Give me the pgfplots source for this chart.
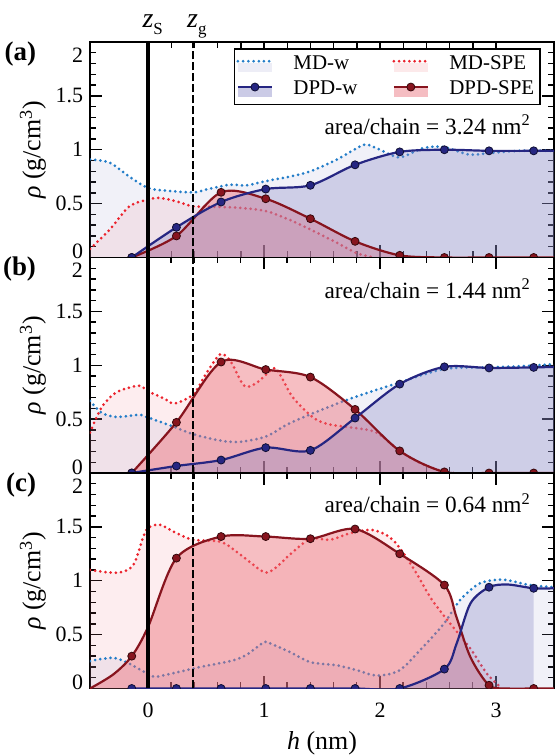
\documentclass[border=0pt]{standalone}
\usepackage{fontspec}
\setmainfont{Liberation Serif}
\usepackage{pgfplots}
\usepackage{pgfplotstable}
\pgfplotsset{compat=1.18}
\usetikzlibrary{calc}

\definecolor{mdw}{RGB}{35,125,200}
\definecolor{dpdw}{RGB}{38,38,130}
\definecolor{mdspe}{RGB}{235,35,45}
\definecolor{dpdspe}{RGB}{135,20,30}
\definecolor{wfill}{RGB}{140,140,200}
\definecolor{spefill}{RGB}{235,110,120}

% ---- panel (a), area/chain = 3.24 nm^2
\pgfplotstableread{
x y
-0.5 0.91
-0.33 0.88
-0.16 0.75
0 0.645
0.16 0.62
0.39 0.605
0.5 0.63
0.7 0.675
0.85 0.67
1.02 0.71
1.22 0.75
1.40 0.80
1.63 0.91
1.80 1.015
1.88 1.05
2.0 1.0
2.17 0.93
2.37 1.015
2.55 1.025
2.77 0.955
2.95 0.97
3.2 0.99
3.5 0.99
}\aMw
\pgfplotstableread{
x y
-0.5 0.08
-0.33 0.26
-0.16 0.475
0 0.537
0.1 0.553
0.25 0.52
0.39 0.475
0.6 0.47
0.8 0.46
1.02 0.43
1.22 0.35
1.40 0.26
1.63 0.136
1.80 0.04
1.95 0
}\aMs
\pgfplotstableread{
x y
-0.14 0
0.245 0.28
0.63 0.515
1.015 0.635
1.40 0.67
1.785 0.86
2.17 0.98
2.555 1.0
2.94 0.99
3.325 0.99
3.5 0.99
}\aDw
\pgfplotstableread{
x y
-0.14 0
0.245 0.20
0.63 0.605
1.015 0.545
1.40 0.36
1.785 0.15
2.17 0.02
2.555 0
2.94 0
3.325 0
3.5 0
}\aDs
\pgfplotstableread{
x w s
-0.14 0 0
0.245 0.28 0.20
0.63 0.515 0.605
1.015 0.635 0.545
1.40 0.67 0.36
1.785 0.86 0.15
2.17 0.98 0.02
2.555 1.0 0
2.94 0.99 0
3.325 0.99 0
}\aMk

% ---- panel (b), area/chain = 1.44 nm^2
\pgfplotstableread{
x y
-0.5 0.67
-0.4 0.56
-0.27 0.52
-0.08 0.54
0 0.515
0.22 0.43
0.39 0.36
0.63 0.30
0.8 0.29
1.02 0.34
1.2 0.45
1.40 0.545
1.77 0.70
2.17 0.84
2.55 0.965
2.92 0.98
3.2 0.99
3.5 1.01
}\bMw
\pgfplotstableread{
x y
-0.5 0.375
-0.4 0.61
-0.27 0.75
-0.08 0.81
0 0.76
0.15 0.685
0.23 0.645
0.39 0.73
0.5 0.92
0.62 1.10
0.71 1.04
0.83 0.81
0.94 0.84
1.08 0.97
1.13 0.93
1.25 0.70
1.43 0.51
1.57 0.45
1.77 0.42
1.97 0.375
2.17 0.205
2.34 0.096
2.55 0.01
2.65 0
}\bMs
\pgfplotstableread{
x y
-0.14 0
0.245 0.065
0.63 0.12
1.015 0.235
1.40 0.21
1.785 0.51
2.17 0.825
2.555 0.985
2.94 0.975
3.325 0.98
3.5 0.985
}\bDw
\pgfplotstableread{
x y
-0.14 0
0.245 0.47
0.63 1.03
1.015 0.96
1.40 0.89
1.785 0.59
2.17 0.205
2.555 0.01
2.94 0
3.325 0
3.5 0
}\bDs
\pgfplotstableread{
x w s
-0.14 0 0
0.245 0.065 0.47
0.63 0.12 1.03
1.015 0.235 0.96
1.40 0.21 0.89
1.785 0.51 0.59
2.17 0.825 0.205
2.555 0.985 0.01
2.94 0.975 0
3.325 0.98 0
}\bMk

% ---- panel (c), area/chain = 0.64 nm^2
\pgfplotstableread{
x y
-0.5 0.255
-0.3 0.285
-0.16 0.23
0 0.135
0.07 0.11
0.25 0.15
0.45 0.2
0.73 0.26
0.86 0.32
1.0 0.43
1.05 0.42
1.22 0.34
1.40 0.245
1.63 0.215
1.80 0.17
1.97 0.12
2.17 0.17
2.37 0.385
2.55 0.60
2.69 0.82
2.86 0.975
3.06 1.01
3.29 0.96
3.5 0.94
}\cMw
\pgfplotstableread{
x y
-0.5 1.10
-0.27 1.075
-0.13 1.14
-0.04 1.41
0 1.49
0.1 1.52
0.25 1.44
0.39 1.38
0.63 1.36
0.8 1.24
1.0 1.08
1.1 1.12
1.22 1.24
1.40 1.39
1.57 1.38
1.74 1.44
1.94 1.47
2.11 1.38
2.28 1.13
2.45 0.82
2.63 0.57
2.78 0.37
2.92 0.14
3.04 0.01
}\cMs
\pgfplotstableread{
x y
-0.14 0
0.245 0
0.63 0
1.015 0
1.40 0
1.785 0
2.17 0
2.555 0.18
2.66 0.415
2.78 0.79
2.94 0.94
3.1 0.965
3.325 0.93
3.5 0.93
}\cDw
% DPD-w shading in (c) stops at the last sample
\pgfplotstableread{
x y
-0.14 0
0.245 0
0.63 0
1.015 0
1.40 0
1.785 0
2.17 0
2.555 0.18
2.66 0.415
2.78 0.79
2.94 0.94
3.1 0.965
3.325 0.93
}\cDwf
\pgfplotstableread{
x y
-0.5 0
-0.3 0.13
-0.14 0.30
0 0.57
0.245 1.21
0.63 1.41
1.015 1.41
1.40 1.39
1.785 1.48
2.17 1.25
2.555 0.96
2.66 0.66
2.78 0.29
2.94 0.03
3.1 0
3.325 0
3.5 0
}\cDs
\pgfplotstableread{
x w s
-0.14 0 0.30
0.245 0 1.21
0.63 0 1.41
1.015 0 1.41
1.40 0 1.39
1.785 0 1.48
2.17 0 1.25
2.555 0.18 0.96
2.94 0.94 0.03
3.325 0.93 0
}\cMk

\tikzset{
  mddot/.style={line width=1.5bp, dash pattern=on 0bp off 2.6bp, line cap=round},
  dpdline/.style={line width=1.1bp},
}
\pgfplotsset{
  panel/.style={
    scale only axis, width=232bp, height=107.75bp,
    xmin=-0.5, xmax=3.5, ymin=0, ymax=2,
    xtick={0,1,2,3}, ytick={0,0.5,1,1.5,2},
    yticklabels={{\raisebox{3bp}[\height][\depth]{0}},0.5,1,1.5,{\raisebox{-6.5bp}[\height][\depth]{2}}},
    minor x tick num=4, minor y tick num=4,
    tick align=inside, tick pos=both,
    major tick length=6bp, minor tick length=3bp,
    axis line style={line width=0.8bp},
    every tick/.style={black, line width=0.7bp},
    font=\fontsize{11}{13}\selectfont,
    tick label style={font=\fontsize{11}{13}\selectfont},
    xticklabel style={yshift=-3.5bp},
    /pgf/number format/assume math mode=true,
    clip marker paths=true, clip mode=individual,
    ylabel={\textit{ρ} (g/cm\textsuperscript{3})},
    ylabel style={at={(axis description cs:-0.123,0.5)}, anchor=center, font=\fontsize{13}{15}\selectfont},
  },
}

% #1 MD-w, #2 MD-SPE, #3 DPD-w, #4 DPD-SPE, #5 markers, #6 DPD-w shading
\newcommand{\drawpanel}[6]{%
  \addplot[draw=none, fill=wfill, fill opacity=0.12, smooth] table {#1} \closedcycle;
  \addplot[draw=none, fill=spefill, fill opacity=0.12, smooth] table {#2} \closedcycle;
  \addplot[mdw, mddot, smooth] table {#1};
  \addplot[mdspe, mddot, smooth] table {#2};
  \addplot[draw=none, fill=spefill, fill opacity=0.45, smooth] table {#4} \closedcycle;
  \addplot[draw=none, fill=wfill, fill opacity=0.35, smooth] table {#6} \closedcycle;
  \addplot[dpdspe, dpdline, smooth] table {#4};
  \addplot[dpdw, dpdline, smooth] table {#3};
  \addplot[only marks, mark=*, mark size=2bp, mark options={fill=dpdspe, draw=black!60!dpdspe, line width=0.4bp}] table[x=x,y=s] {#5};
  \addplot[only marks, mark=*, mark size=2bp, mark options={fill=dpdw, draw=black!60!dpdw, line width=0.4bp}] table[x=x,y=w] {#5};
  \addplot[black, line width=2bp] coordinates {(0,0) (0,2)};
  \addplot[black, line width=0.9bp, dash pattern=on 4bp off 1.5bp] coordinates {(0.385,0) (0.385,2)};
}
\newcommand{\panellabel}[1]{\node[anchor=east, font=\bfseries\fontsize{13.5}{15}\selectfont] at (rel axis cs:0,1) [xshift=-23.5bp, yshift=-6bp] {#1};}
\newcommand{\arealabel}[2]{\node[anchor=east, font=\fontsize{11.7}{13}\selectfont] at (axis cs:3.36,#1) {area/chain = #2 nm\textsuperscript{2}};}

\begin{document}
\begin{tikzpicture}
\begin{axis}[panel, name=pa, xticklabels={},
  legend columns=2, legend cell align=left,
  legend style={at={(0.972,0.972)}, anchor=north east, draw=black, line width=0.8bp,
    font=\fontsize{10.5}{12}\selectfont, inner xsep=1bp, inner ysep=1.5bp,
    /tikz/every even column/.append style={column sep=15.5bp},
    /tikz/every odd column/.append style={column sep=8bp}},
]
\addlegendimage{legend image code/.code={
  \fill[draw=none, fill=wfill, fill opacity=0.15] (0bp,-4bp) rectangle (17bp,0.5bp);
  \draw[mdw, mddot] (0bp,1.5bp) -- (17bp,1.5bp);}}
\addlegendentry{MD-w}
\addlegendimage{legend image code/.code={
  \fill[draw=none, fill=spefill, fill opacity=0.15] (0bp,-4bp) rectangle (17bp,0.5bp);
  \draw[mdspe, mddot] (0bp,1.5bp) -- (17bp,1.5bp);}}
\addlegendentry{MD-SPE}
\addlegendimage{legend image code/.code={
  \fill[draw=none, fill=wfill, fill opacity=0.45] (0bp,-4bp) rectangle (17bp,1bp);
  \draw[dpdw, dpdline] (0bp,1bp) -- (17bp,1bp);
  \filldraw[fill=dpdw, draw=black!60!dpdw, line width=0.4bp] (8.5bp,1bp) circle (2bp);}}
\addlegendentry{DPD-w}
\addlegendimage{legend image code/.code={
  \fill[draw=none, fill=spefill, fill opacity=0.45] (0bp,-4bp) rectangle (17bp,1bp);
  \draw[dpdspe, dpdline] (0bp,1bp) -- (17bp,1bp);
  \filldraw[fill=dpdspe, draw=black!60!dpdspe, line width=0.4bp] (8.5bp,1bp) circle (2bp);}}
\addlegendentry{DPD-SPE}
\drawpanel{\aMw}{\aMs}{\aDw}{\aDs}{\aMk}{\aDw}
\panellabel{(a)}
\arealabel{1.23}{3.24}
\node[anchor=base, font=\fontsize{14}{16}\selectfont] at (axis cs:0,2) [yshift=7bp]
  {\textit{z}\rlap{\raisebox{-3.5bp}{\fontsize{8.5}{9}\selectfont S}}};
\node[anchor=base, font=\fontsize{14}{16}\selectfont] at (axis cs:0.385,2) [yshift=7bp]
  {\textit{z}\rlap{\raisebox{-3.5bp}{\fontsize{8.5}{9}\selectfont g}}};
\end{axis}

\begin{axis}[panel, name=pb, at={(pa.south west)}, anchor=north west, xticklabels={}]
\drawpanel{\bMw}{\bMs}{\bDw}{\bDs}{\bMk}{\bDw}
\panellabel{(b)}
\arealabel{1.71}{1.44}
\end{axis}

\begin{axis}[panel, name=pc, at={(pb.south west)}, anchor=north west,
  xlabel={\textit{h} (nm)},
  xlabel style={at={(axis description cs:0.5,-0.255)}, anchor=center, font=\fontsize{13}{15}\selectfont}]
\drawpanel{\cMw}{\cMs}{\cDw}{\cDs}{\cMk}{\cDwf}
\panellabel{(c)}
\arealabel{1.72}{0.64}
\end{axis}

\pgfresetboundingbox
\path[use as bounding box] ($(pa.north west)+(-45bp,21bp)$) rectangle ($(pa.north west)+(232.5bp,-357bp)$);
\end{tikzpicture}
\end{document}
